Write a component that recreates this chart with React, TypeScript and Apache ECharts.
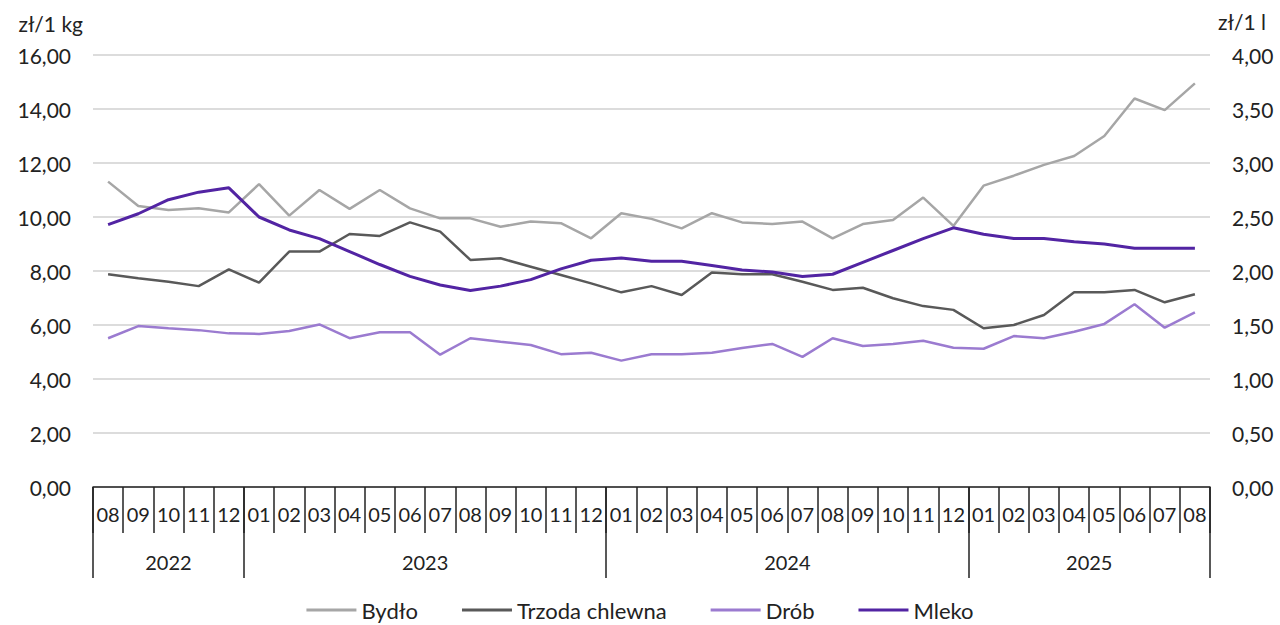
import React, { useEffect, useRef } from "react";
import * as echarts from "echarts";

const months = [
  "08","09","10","11","12",
  "01","02","03","04","05","06","07","08","09","10","11","12",
  "01","02","03","04","05","06","07","08","09","10","11","12",
  "01","02","03","04","05","06","07","08",
];
const years = ["2022", "2023", "2024", "2025"];
const monthsPerYear = [5, 12, 12, 8];

const bydlo = [
  11.31, 10.41, 10.26, 10.32, 10.17,
  11.22, 10.05, 11.0, 10.3, 11.0, 10.32, 9.95, 9.95, 9.64, 9.83, 9.77, 9.21,
  10.14, 9.93, 9.58, 10.14, 9.8, 9.74, 9.83, 9.21, 9.74, 9.89, 10.72, 9.67,
  11.16, 11.53, 11.93, 12.26, 13.0, 14.39, 13.96, 14.95,
];
const trzoda = [
  7.88, 7.73, 7.6, 7.44, 8.06,
  7.57, 8.72, 8.72, 9.37, 9.3, 9.8, 9.46, 8.41, 8.47, 8.16, 7.85, 7.54,
  7.21, 7.44, 7.11, 7.94, 7.88, 7.88, 7.6, 7.3, 7.38, 6.99, 6.7, 6.56,
  5.88, 6.0, 6.37, 7.21, 7.21, 7.3, 6.84, 7.14,
];
const drob = [
  5.51, 5.96, 5.88, 5.81, 5.69,
  5.67, 5.78, 6.02, 5.51, 5.73, 5.73, 4.9, 5.51, 5.38, 5.26, 4.92, 4.97,
  4.68, 4.92, 4.92, 4.97, 5.15, 5.3, 4.82, 5.51, 5.22, 5.3, 5.42, 5.16,
  5.12, 5.59, 5.51, 5.75, 6.04, 6.77, 5.9, 6.47,
];
const mleko = [
  2.43, 2.53, 2.66, 2.73, 2.77,
  2.5, 2.38, 2.3, 2.18, 2.06, 1.95, 1.87, 1.82, 1.86, 1.92, 2.02, 2.1,
  2.12, 2.09, 2.09, 2.05, 2.01, 1.99, 1.95, 1.97, 2.08, 2.19, 2.3, 2.4,
  2.34, 2.3, 2.3, 2.27, 2.25, 2.21, 2.21, 2.21,
];

const FONT = "Lato, 'Noto Sans', sans-serif";
const TXT = "#222";

// Year axis: 2*N+1 positions (half-month steps, boundaryGap false)
function buildYearAxis() {
  const n = months.length * 2 + 1;
  const labels: string[] = new Array(n).fill("");
  const boundaries = new Set<number>([0]);
  let start = 0;
  years.forEach((y, i) => {
    const end = start + monthsPerYear[i];
    labels[start + end] = y;
    boundaries.add(end * 2);
    start = end;
  });
  const centers = new Set<number>();
  labels.forEach((l, i) => { if (l) centers.add(i); });
  return { labels, boundaries, centers };
}

export default function App() {
  const ref = useRef<HTMLDivElement>(null);
  useEffect(() => {
    if (!ref.current) return;
    const chart = echarts.init(ref.current, undefined, { renderer: "svg" });
    const ya = buildYearAxis();
    const fmt = (v: number) => v.toFixed(2).replace(".", ",");
    chart.setOption({
      animation: false,
      textStyle: { fontFamily: FONT },
      grid: { left: 93, right: 70, top: 55, bottom: 138, containLabel: false },
      legend: {
        bottom: -1,
        left: "center",
        itemWidth: 50,
        itemHeight: 3,
        itemGap: 44,
        icon: "rect",
        textStyle: { fontFamily: FONT, fontSize: 22, color: TXT },
        data: ["Bydło", "Trzoda chlewna", "Drób", "Mleko"],
      },
      xAxis: [
        {
          type: "category",
          data: months,
          boundaryGap: true,
          position: "bottom",
          axisLine: { show: true, lineStyle: { color: TXT, width: 1.5 } },
          axisTick: { show: true, interval: 0, length: 46, lineStyle: { color: TXT, width: 1.5 } },
          axisLabel: { interval: 0, margin: 17, fontSize: 20, color: TXT, fontFamily: FONT },
          splitLine: { show: false },
        },
        {
          type: "category",
          data: ya.labels,
          boundaryGap: false,
          position: "bottom",
          axisLine: { show: false },
          axisTick: {
            show: true,
            length: 91,
            interval: (i: number) => ya.boundaries.has(i),
            lineStyle: { color: TXT, width: 1.5 },
          },
          axisLabel: {
            interval: (i: number) => ya.centers.has(i),
            margin: 65,
            fontSize: 20,
            color: TXT,
            fontFamily: FONT,
          },
          splitLine: { show: false },
        },
      ],
      yAxis: [
        {
          type: "value",
          min: 0,
          max: 16,
          interval: 2,
          name: "zł/1 kg",
          nameLocation: "end",
          nameGap: 21,
          nameTextStyle: { align: "right", padding: [0, 10, 0, 0], fontSize: 21, color: TXT, fontFamily: FONT },
          axisLine: { show: false },
          axisTick: { show: false },
          axisLabel: { formatter: fmt, fontSize: 21, color: TXT, margin: 22, fontFamily: FONT },
          splitLine: { show: true, lineStyle: { color: "#d0d0d0", width: 1.5 } },
        },
        {
          type: "value",
          min: 0,
          max: 4,
          interval: 0.5,
          name: "zł/1 l",
          nameLocation: "end",
          nameGap: 23,
          nameTextStyle: { align: "left", padding: [0, 0, 0, 8], fontSize: 21, color: TXT, fontFamily: FONT },
          axisLine: { show: false },
          axisTick: { show: false },
          axisLabel: { formatter: fmt, fontSize: 21, color: TXT, margin: 22, fontFamily: FONT },
          splitLine: { show: false },
        },
      ],
      series: [
        {
          name: "Bydło", type: "line", data: bydlo, xAxisIndex: 0, yAxisIndex: 0,
          symbol: "none", lineStyle: { width: 2.5, color: "#a6a6a6" }, itemStyle: { color: "#a6a6a6" },
        },
        {
          name: "Trzoda chlewna", type: "line", data: trzoda, xAxisIndex: 0, yAxisIndex: 0,
          symbol: "none", lineStyle: { width: 2.5, color: "#595959" }, itemStyle: { color: "#595959" },
        },
        {
          name: "Drób", type: "line", data: drob, xAxisIndex: 0, yAxisIndex: 0,
          symbol: "none", lineStyle: { width: 2.5, color: "#9b7bd0" }, itemStyle: { color: "#9b7bd0" },
        },
        {
          name: "Mleko", type: "line", data: mleko, xAxisIndex: 0, yAxisIndex: 1,
          symbol: "none", lineStyle: { width: 3, color: "#5224a3" }, itemStyle: { color: "#5224a3" },
        },
      ],
    });
    return () => chart.dispose();
  }, []);
  return <div ref={ref} style={{ width: 1280, height: 625, position: "absolute", left: 0, top: 0 }} />;
}
